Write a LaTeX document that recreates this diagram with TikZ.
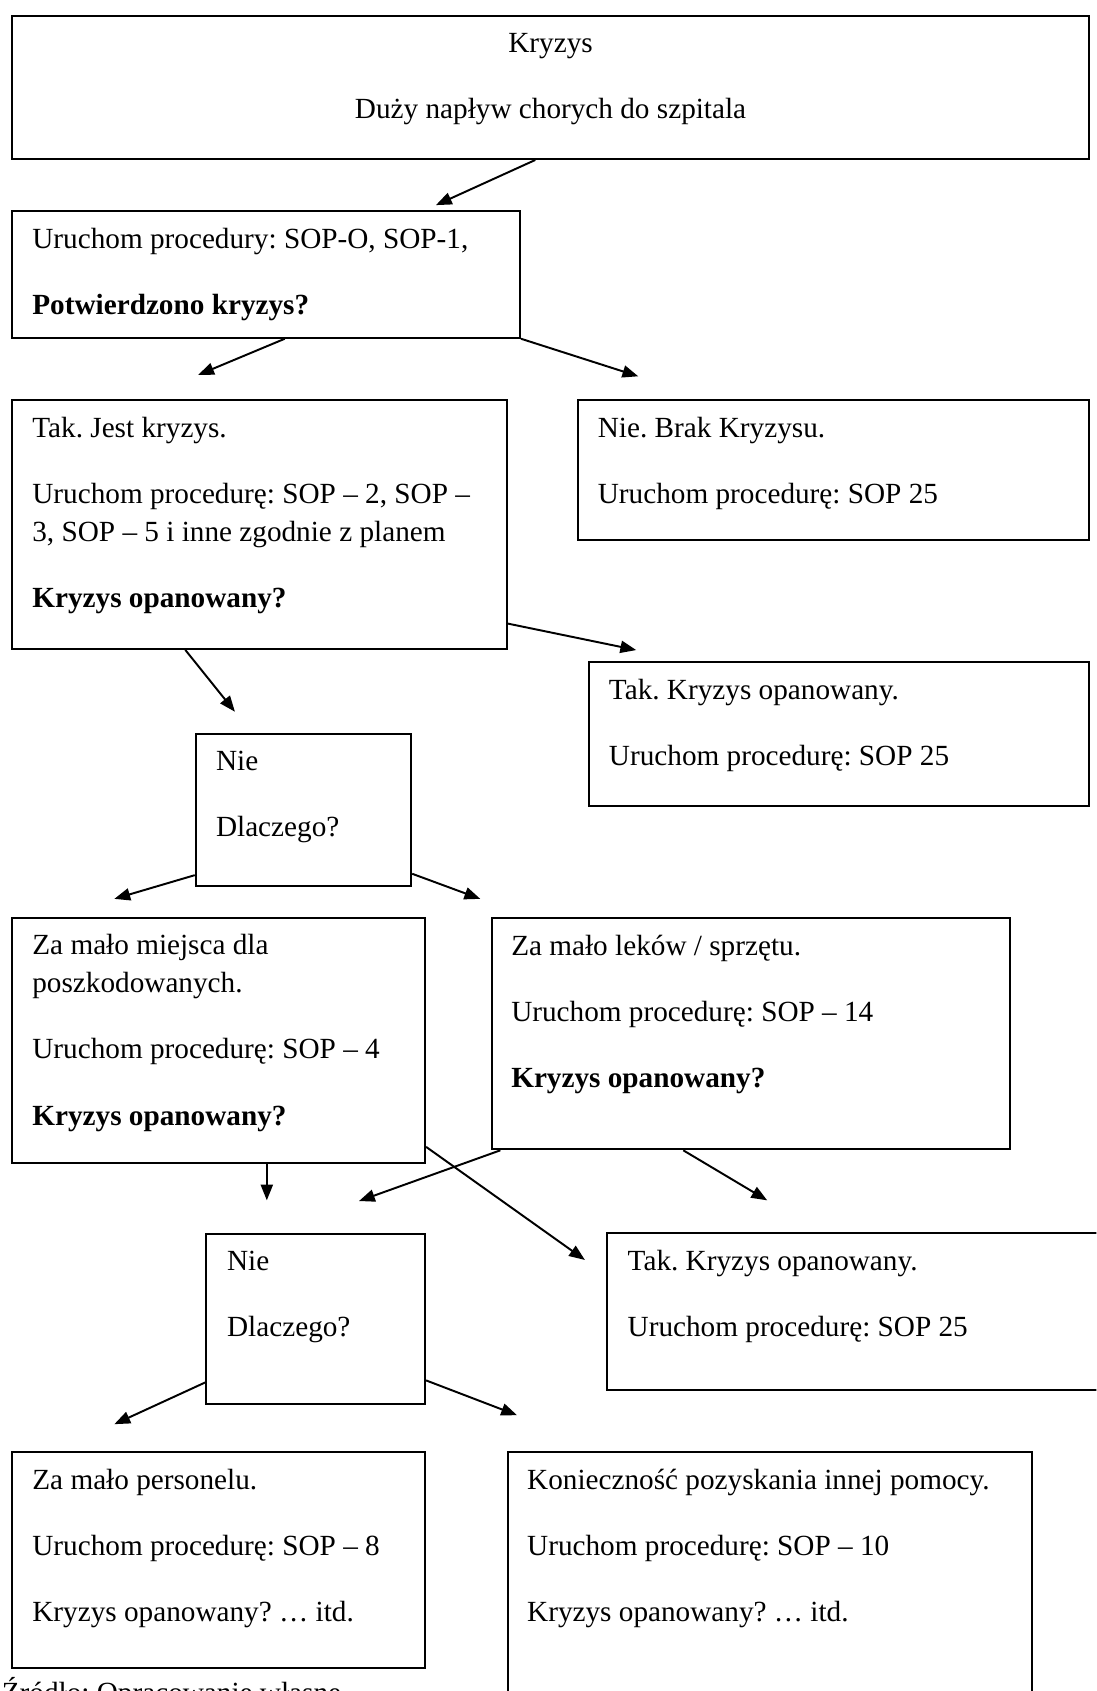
\documentclass[tikz,border=0pt]{standalone}
\usepackage{fontspec}
\setmainfont{Liberation Serif}
\usetikzlibrary{arrows.meta, calc}
\frenchspacing
\tikzset{
  box/.style 2 args={
    draw=black, line width=0.8pt, anchor=north west, inner sep=0pt,
    minimum width=#1cm, minimum height=#2cm
  },
  txt/.style={anchor=north west, inner sep=0pt, align=left,
              font=\fontsize{12pt}{15.6pt}\selectfont},
  ar/.style={-{Triangle[length=6.5pt, width=5pt]}, line width=0.8pt},
}
\def\XL{0.16}
\def\Pgap{11.5pt}

\begin{document}
\begin{tikzpicture}

\useasboundingbox (0,0) rectangle (15.82,-24.40);
\clip (0,0) rectangle (15.82,-24.40);

%% ============================================================
%% BOXES
%% ============================================================

\node[box={15.54}{2.06}] (nStart)    at (\XL,  -0.22) {};
\node[box={7.33}{1.83}]  (nSop)      at (\XL,  -3.03) {};
\node[box={7.14}{3.59}]  (nTak)      at (\XL,  -5.76) {};
\node[box={7.37}{2.02}]  (nBrak)     at (8.33, -5.76) {};
\node[box={7.22}{2.08}]  (nOpan1)    at (8.48, -9.54) {};
\node[box={3.11}{2.19}]  (nNie1)     at (2.81, -10.58) {};
\node[box={5.96}{3.54}]  (nMiejsce)  at (\XL,  -13.23) {};
\node[box={7.47}{3.34}]  (nLeki)     at (7.09, -13.23) {};
\node[box={3.16}{2.46}]  (nNie2)     at (2.96, -17.79) {};
\node[box={7.13}{2.26}]  (nOpan2)    at (8.74, -17.78) {};
\node[box={5.96}{3.11}]  (nPersonel) at (\XL,  -20.94) {};
\node[box={7.56}{3.59}]  (nPomoc)    at (7.32, -20.94) {};

%% ============================================================
%% TEXTS
%% ============================================================

\node[txt, anchor=north, align=center] (tStart)
  at ([yshift=-0.25cm] nStart.north)
  {Kryzys\\[\Pgap]Duży napływ chorych do szpitala};
\node[txt] (tSop) at ([shift={(0.30,-0.25)}] nSop.north west)
  {Uruchom procedury: SOP-O, SOP-1,\\[\Pgap]\textbf{Potwierdzono kryzys?}};
\node[txt] (tTak) at ([shift={(0.30,-0.25)}] nTak.north west)
  {Tak. Jest kryzys.\\[\Pgap]
   Uruchom procedurę: SOP – 2, SOP –\\
   3, SOP – 5 i inne zgodnie z planem\\[\Pgap]
   \textbf{Kryzys opanowany?}};
\node[txt] (tBrak) at ([shift={(0.29,-0.25)}] nBrak.north west)
  {Nie. Brak Kryzysu.\\[\Pgap]Uruchom procedurę: SOP 25};
\node[txt] (tOpan1) at ([shift={(0.30,-0.25)}] nOpan1.north west)
  {Tak. Kryzys opanowany.\\[\Pgap]Uruchom procedurę: SOP 25};
\node[txt] (tNie1) at ([shift={(0.30,-0.25)}] nNie1.north west)
  {Nie\\[\Pgap]Dlaczego?};
\node[txt] (tMiejsce) at ([shift={(0.30,-0.25)}] nMiejsce.north west)
  {Za mało miejsca dla\\
   poszkodowanych.\\[\Pgap]
   Uruchom procedurę: SOP – 4\\[\Pgap]
   \textbf{Kryzys opanowany?}};
\node[txt] (tLeki) at ([shift={(0.28,-0.25)}] nLeki.north west)
  {Za mało leków / sprzętu.\\[\Pgap]
   Uruchom procedurę: SOP – 14\\[\Pgap]
   \textbf{Kryzys opanowany?}};
\node[txt] (tNie2) at ([shift={(0.31,-0.25)}] nNie2.north west)
  {Nie\\[\Pgap]Dlaczego?};
\node[txt] (tOpan2) at ([shift={(0.31,-0.25)}] nOpan2.north west)
  {Tak. Kryzys opanowany.\\[\Pgap]Uruchom procedurę: SOP 25};
\node[txt] (tPersonel) at ([shift={(0.30,-0.25)}] nPersonel.north west)
  {Za mało personelu.\\[\Pgap]
   Uruchom procedurę: SOP – 8\\[\Pgap]
   Kryzys opanowany? … itd.};
\node[txt] (tPomoc) at ([shift={(0.28,-0.25)}] nPomoc.north west)
  {Konieczność pozyskania innej pomocy.\\[\Pgap]
   Uruchom procedurę: SOP – 10\\[\Pgap]
   Kryzys opanowany? … itd.};

%% source line, cut off at the bottom edge
\node[txt, anchor=base west] (tZrodlo) at (0.02,-24.57)
  {Źródło: Opracowanie własne};

%% ============================================================
%% ARROWS
%% ============================================================

%% arrow tips stop short of the boxes
\coordinate (pSop)      at (6.29,-2.96);
\coordinate (pTak)      at (2.86,-5.41);
\coordinate (pBrak)     at (9.21,-5.43);
\coordinate (pOpan1)    at (9.18,-9.38);
\coordinate (pNie1)     at (3.39,-10.27);
\coordinate (pMiejsce)  at (1.65,-12.97);
\coordinate (pLeki)     at (6.93,-12.97);
\coordinate (pNie2a)    at (3.85,-17.32);
\coordinate (pNie2b)    at (5.18,-17.33);
\coordinate (pOpan2a)   at (11.07,-17.32);
\coordinate (pOpan2b)   at (8.44,-18.18);
\coordinate (pPersonel) at (1.65,-20.55);
\coordinate (pPomoc)    at (7.46,-20.42);

\draw[ar] ([xshift=-0.22cm] nStart.south) -- (pSop);

\draw[ar] ([xshift=0.27cm] nSop.south) -- (pTak);
\draw[ar] (nSop.south east) -- (pBrak);

\draw[ar] ([yshift=0.38cm] nTak.south east) -- (pOpan1);
\draw[ar] ([xshift=-1.07cm] nTak.south) -- (pNie1);

\draw[ar] ([yshift=0.17cm] nNie1.south west) -- (pMiejsce);
\draw[ar] ([yshift=0.19cm] nNie1.south east) -- (pLeki);

\draw[ar] (pNie2a |- nMiejsce.south) -- (pNie2a);
\draw[ar] ([xshift=0.13cm] nLeki.south west) -- (pNie2b);
\draw[ar] ([xshift=-0.98cm] nLeki.south) -- (pOpan2a);
\draw[ar] ([yshift=0.25cm] nMiejsce.south east) -- (pOpan2b);

\draw[ar] ([yshift=0.33cm] nNie2.south west) -- (pPersonel);
\draw[ar] ([yshift=0.36cm] nNie2.south east) -- (pPomoc);

\end{tikzpicture}
\end{document}
